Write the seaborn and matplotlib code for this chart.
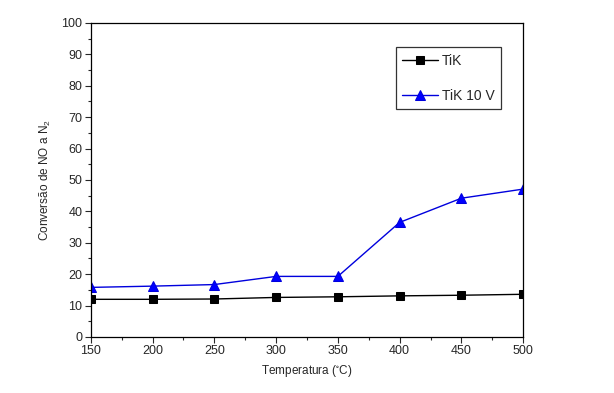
import matplotlib
matplotlib.use("Agg")
import matplotlib.pyplot as plt
import seaborn as sns
import pandas as pd
from matplotlib.ticker import MultipleLocator

# dados
temperatura = [150, 200, 250, 300, 350, 400, 450, 500]
tik = [12.0, 12.0, 12.1, 12.6, 12.8, 13.1, 13.3, 13.6]
tik_10v = [15.8, 16.2, 16.7, 19.3, 19.3, 36.5, 44.2, 47.1]

sns.set_style("ticks")
plt.rcParams['font.family'] = ['Liberation Sans', 'DejaVu Sans']
plt.rcParams['mathtext.default'] = 'regular'

df = pd.DataFrame({
    "Temperatura": temperatura * 2,
    "Conversao": tik + tik_10v,
    "Amostra": ["TiK"] * len(tik) + ["TiK 10 V"] * len(tik_10v),
})

fig = plt.figure(figsize=(6.14, 3.93), dpi=100)
ax = fig.add_axes([0.148, 0.1425, 0.704, 0.799])

sns.lineplot(data=df[df.Amostra == "TiK"], x="Temperatura", y="Conversao",
             color="black", marker="s", markersize=6, linewidth=1,
             markeredgecolor="black", label="TiK", ax=ax)
sns.lineplot(data=df[df.Amostra == "TiK 10 V"], x="Temperatura", y="Conversao",
             color="#0000dd", marker="^", markersize=7, linewidth=1,
             markeredgecolor="#0000dd", markerfacecolor="#0000ff",
             label="TiK 10 V", ax=ax)

ax.set_xlim(150, 500)
ax.set_ylim(0, 100)
ax.xaxis.set_major_locator(MultipleLocator(50))
ax.xaxis.set_minor_locator(MultipleLocator(25))
ax.yaxis.set_major_locator(MultipleLocator(10))
ax.yaxis.set_minor_locator(MultipleLocator(5))
ax.tick_params(axis="both", which="major", direction="out", length=4, width=0.8,
               labelsize=9, pad=2)
ax.tick_params(axis="both", which="minor", direction="out", length=2.5, width=0.8)
for s in ax.spines.values():
    s.set_linewidth(0.9)
    s.set_color("black")

ax.set_xlabel("Temperatura ($^{\\circ}$C)", fontsize=8.5, labelpad=4)
ax.set_ylabel("Conversão de NO a N$_2$", fontsize=8.5, labelpad=6)

leg = ax.legend(loc="upper left", bbox_to_anchor=(0.705, 0.922), fontsize=10,
                frameon=True, fancybox=False, edgecolor="black",
                handlelength=2.6, labelspacing=1.5, borderpad=0.45,
                handletextpad=0.3, borderaxespad=0)
leg.get_frame().set_linewidth(0.9)

fig.savefig("out.png", dpi=100)
